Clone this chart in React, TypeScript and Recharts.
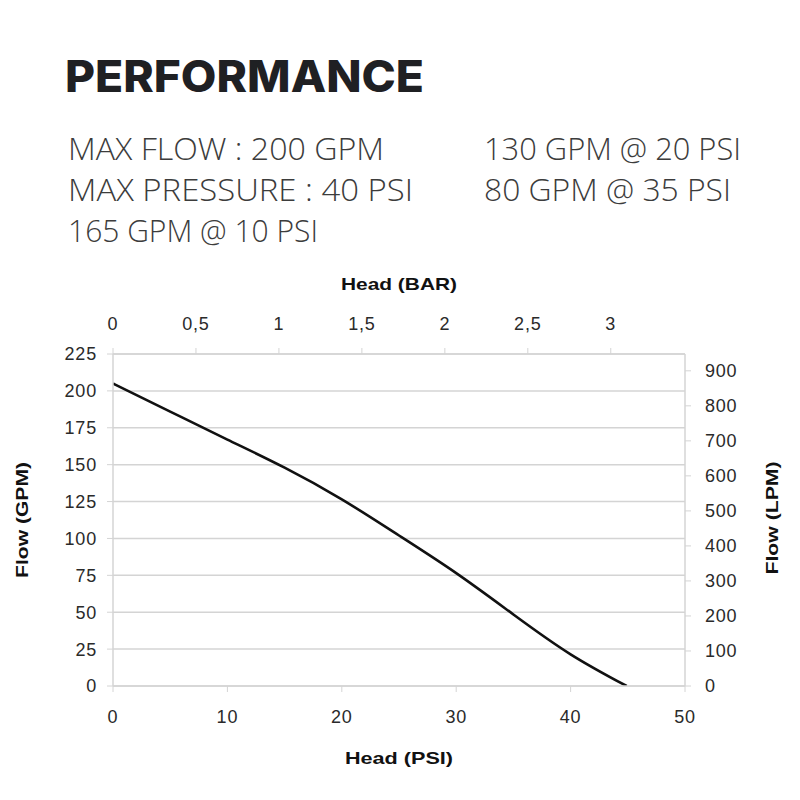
import {
  CartesianGrid,
  Line,
  LineChart,
  XAxis,
  YAxis,
} from 'recharts';

// header specs
const specsLeft = ['MAX FLOW : 200 GPM', 'MAX PRESSURE : 40 PSI', '165 GPM @ 10 PSI'];
const specsRight = ['130 GPM @ 20 PSI', '80 GPM @ 35 PSI'];

// curve
const headPsi = [0, 5, 10, 15, 20, 25, 30, 35, 40, 44.9];
const flowGpm = [205, 186, 167, 148, 126.5, 102, 76.5, 48.5, 21.5, 0];

// axis ticks
const psiTicks = [0, 10, 20, 30, 40, 50];
const gpmTicks = [0, 25, 50, 75, 100, 125, 150, 175, 200, 225];
const lpmTicks = [0, 100, 200, 300, 400, 500, 600, 700, 800, 900];
const barTicks = [0, 0.5, 1, 1.5, 2, 2.5, 3];

const PSI_PER_BAR = 14.5038;

const data = headPsi.map((psi, i) => ({
  psi,
  bar: psi / PSI_PER_BAR,
  gpm: flowGpm[i],
}));

const gridColor = '#d4d4d4';
const tickStyle = { fontSize: 18, fill: '#2a2a2a', fontFamily: 'Liberation Sans, Arial, sans-serif', letterSpacing: 0.8 };
const titleFont = 'Liberation Sans, Arial, sans-serif';

export default function App() {
  return (
    <div style={{ position: 'absolute', left: 0, top: 0, width: 800, height: 800, background: '#fff' }}>
      <svg width={800} height={260} style={{ position: 'absolute', left: 0, top: 0 }}>
        <text
          x={65}
          y={92}
          fontFamily="Inter, sans-serif"
          fontWeight={800}
          fontSize={44}
          fill="#1f2023"
          textLength={359}
          lengthAdjust="spacingAndGlyphs"
        >
          PERFORMANCE
        </text>
        {specsLeft.map((s, i) => (
          <text
            key={s}
            x={68}
            y={160 + i * 41}
            fontFamily="'Open Sans', sans-serif"
            fontWeight={300}
            fontSize={31}
            fill="#3c3c3c"
            textLength={[316, 345, 250][i]}
            lengthAdjust="spacingAndGlyphs"
          >
            {s}
          </text>
        ))}
        {specsRight.map((s, i) => (
          <text
            key={s}
            x={484}
            y={160 + i * 41}
            fontFamily="'Open Sans', sans-serif"
            fontWeight={300}
            fontSize={31}
            fill="#3c3c3c"
            textLength={[257, 247][i]}
            lengthAdjust="spacingAndGlyphs"
          >
            {s}
          </text>
        ))}
      </svg>

      <div style={{ position: 'absolute', left: 0, top: 0 }}>
        <LineChart
          width={800}
          height={800}
          data={data}
          margin={{ top: 324, right: 55, bottom: 84, left: 53 }}
        >
          <CartesianGrid
            xAxisId="psi"
            yAxisId="gpm"
            vertical={false}
            stroke={gridColor}
            strokeWidth={1.5}
          />
          <XAxis
            xAxisId="psi"
            dataKey="psi"
            type="number"
            domain={[0, 50]}
            ticks={psiTicks}
            orientation="bottom"
            height={30}
            axisLine={{ stroke: gridColor, strokeWidth: 1.5 }}
            tickLine={{ stroke: gridColor }}
            tickSize={6}
            tickMargin={18}
            tick={tickStyle}
            allowDataOverflow
          />
          <XAxis
            xAxisId="bar"
            dataKey="bar"
            type="number"
            domain={[0, 50 / PSI_PER_BAR]}
            ticks={barTicks}
            orientation="top"
            height={30}
            axisLine={{ stroke: gridColor, strokeWidth: 1.5 }}
            tickLine={{ stroke: gridColor }}
            tickSize={6}
            tickMargin={18}
            tick={tickStyle}
            tickFormatter={(v: number) => String(v).replace('.', ',')}
            allowDataOverflow
          />
          <YAxis
            yAxisId="gpm"
            type="number"
            domain={[0, 225]}
            ticks={gpmTicks}
            orientation="left"
            width={60}
            axisLine={{ stroke: gridColor, strokeWidth: 1.5 }}
            tickLine={{ stroke: gridColor }}
            tickSize={6}
            tickMargin={10}
            tick={tickStyle}
            allowDataOverflow
          />
          <YAxis
            yAxisId="lpm"
            type="number"
            domain={[0, 948]}
            ticks={lpmTicks}
            orientation="right"
            width={60}
            axisLine={{ stroke: gridColor, strokeWidth: 1.5 }}
            tickLine={{ stroke: gridColor }}
            tickSize={6}
            tickMargin={14}
            tick={tickStyle}
            allowDataOverflow
          />
          <Line
            xAxisId="bar"
            yAxisId="lpm"
            dataKey="gpm"
            stroke="none"
            dot={false}
            activeDot={false}
            isAnimationActive={false}
          />
          <Line
            xAxisId="psi"
            yAxisId="gpm"
            dataKey="gpm"
            type="natural"
            stroke="#111"
            strokeWidth={2.6}
            dot={false}
            activeDot={false}
            isAnimationActive={false}
          />
        </LineChart>
      </div>

      <svg width={800} height={800} style={{ position: 'absolute', left: 0, top: 0, pointerEvents: 'none' }}>
        <text x={399} y={290} textAnchor="middle" fontFamily={titleFont} fontWeight={700} fontSize={17} fill="#111" textLength={116} lengthAdjust="spacingAndGlyphs">
          Head (BAR)
        </text>
        <text x={399} y={764} textAnchor="middle" fontFamily={titleFont} fontWeight={700} fontSize={17} fill="#111" textLength={108} lengthAdjust="spacingAndGlyphs">
          Head (PSI)
        </text>
        <text transform="translate(28,520) rotate(-90)" textAnchor="middle" fontFamily={titleFont} fontWeight={700} fontSize={17} fill="#111" textLength={116} lengthAdjust="spacingAndGlyphs">
          Flow (GPM)
        </text>
        <text transform="translate(778,518) rotate(-90)" textAnchor="middle" fontFamily={titleFont} fontWeight={700} fontSize={17} fill="#111" textLength={113} lengthAdjust="spacingAndGlyphs">
          Flow (LPM)
        </text>
      </svg>
    </div>
  );
}
